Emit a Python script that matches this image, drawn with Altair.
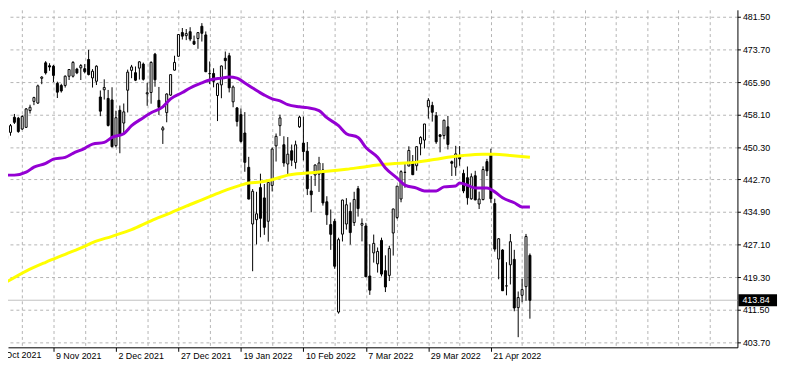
import json
import altair as alt
import pandas as pd

# ---- daily candles (bar index 0 = 22 Oct 2021 ... 134 = 5 May 2022) ----
opens = [452.4, 453.9, 457.5, 457.3, 454.7, 455.1, 459.1, 461.3, 460.9, 466.8,
         470.5, 469.8, 469.7, 465.6, 465.1, 465.1, 467.3, 467.3, 469.0, 469.3,
         469.1, 471.3, 466.9, 466.1, 462.34, 464.07, 462.00, 461.64, 450.73, 459.17,
         456.13, 463.96, 468.70, 468.15, 469.23, 470.19, 463.09, 463.42, 472.57, 461.55,
         454.48, 458.61, 462.79, 468.75, 472.06, 477.72, 476.98, 477.93, 475.64, 476.30,
         479.22, 477.16, 467.89, 467.95, 462.70, 465.23, 471.59, 472.19, 461.19, 459.74,
         458.13, 453.75, 445.56, 432.03, 433.06, 440.72, 438.26, 432.68, 441.24, 450.68,
         455.50, 450.95, 446.35, 449.51, 446.73, 455.22, 451.34, 449.41, 439.92, 443.73,
         443.93, 444.93, 437.33, 431.89, 432.66, 411.02, 429.61, 432.03, 435.04, 432.37,
         440.47, 431.75, 431.55, 419.62, 425.14, 422.52, 428.12, 420.89, 419.77, 429.89,
         433.59, 438.00, 444.34, 445.86, 446.91, 445.94, 451.16, 452.06, 460.02, 460.34,
         457.89, 453.31, 453.13, 455.22, 446.89, 445.59, 447.97, 444.11, 443.08, 438.03,
         443.55, 436.81, 437.86, 446.92, 448.54, 436.91, 423.67, 425.83, 417.24, 422.29,
         423.59, 412.07, 415.01, 417.08, 424.55]
highs = [454.7, 455.9, 458.3, 457.6, 458.0, 459.7, 460.5, 462.4, 465.3, 467.3,
         470.9, 470.4, 470.0, 466.0, 465.5, 467.5, 468.9, 470.9, 469.3, 470.2,
         470.2, 473.6, 469.0, 469.9, 463.90, 466.56, 464.03, 464.67, 459.07, 460.30,
         460.79, 468.88, 470.00, 469.63, 470.90, 470.56, 465.74, 470.86, 472.87, 464.74,
         455.40, 463.21, 467.81, 472.19, 477.31, 478.81, 478.56, 479.00, 477.00, 477.85,
         479.98, 477.98, 470.82, 469.20, 465.74, 469.85, 473.20, 472.88, 465.09, 459.96,
         459.61, 458.74, 448.06, 440.38, 439.72, 444.04, 441.59, 442.00, 450.28, 453.63,
         458.12, 452.97, 452.78, 450.99, 451.92, 457.88, 457.71, 451.61, 443.50, 446.28,
         448.06, 446.56, 438.66, 435.50, 433.26, 428.76, 437.84, 438.20, 437.17, 439.72,
         441.11, 433.37, 432.30, 427.21, 429.51, 426.43, 428.77, 424.55, 426.84, 435.68,
         441.07, 444.86, 446.46, 450.58, 448.49, 450.50, 452.98, 455.91, 462.07, 461.20,
         458.76, 453.46, 456.91, 457.83, 447.17, 450.69, 450.63, 445.00, 445.75, 444.11,
         444.73, 439.75, 445.80, 447.57, 450.01, 438.08, 428.69, 426.04, 422.92, 429.64,
         425.87, 415.92, 418.93, 429.66, 425.00]
lows = [451.2, 453.1, 455.9, 453.8, 454.5, 455.0, 458.4, 460.4, 460.7, 465.4,
        467.7, 468.6, 465.9, 462.1, 463.4, 464.6, 466.4, 467.0, 467.8, 466.4,
        468.0, 467.5, 464.6, 465.2, 457.77, 461.73, 455.30, 450.29, 450.31, 448.92,
        453.56, 458.65, 466.83, 466.14, 466.51, 466.27, 460.25, 460.74, 464.80, 458.06,
        451.14, 456.31, 462.58, 468.64, 472.01, 476.06, 475.92, 475.67, 474.81, 473.85,
        475.58, 468.28, 465.43, 464.65, 456.60, 462.05, 468.94, 463.44, 459.90, 455.31,
        451.46, 444.50, 437.95, 420.76, 427.15, 428.86, 429.45, 427.82, 439.81, 446.94,
        453.05, 445.71, 443.83, 445.85, 445.22, 455.00, 447.20, 438.94, 434.84, 441.12,
        439.69, 436.42, 431.82, 425.86, 421.35, 410.64, 427.86, 430.70, 427.11, 431.57,
        433.80, 427.88, 419.36, 415.12, 422.82, 420.44, 419.53, 415.79, 418.42, 424.50,
        433.19, 437.22, 440.68, 445.86, 443.71, 444.76, 448.43, 450.06, 457.18, 456.47,
        451.16, 449.14, 452.26, 449.82, 443.48, 443.53, 445.94, 439.39, 436.65, 437.84,
        437.68, 435.61, 437.68, 443.48, 437.10, 425.44, 418.84, 416.07, 415.01, 417.60,
        411.21, 405.02, 413.36, 413.71, 409.44]
closes = [453.1, 455.5, 456.3, 454.1, 457.7, 459.5, 459.9, 462.2, 465.0, 467.1,
          468.1, 469.5, 467.5, 463.5, 463.8, 467.3, 468.9, 470.6, 468.1, 469.85,
          468.4, 467.7, 468.5, 469.7, 458.97, 464.60, 455.56, 450.50, 457.40, 453.42,
          458.79, 468.28, 469.52, 466.35, 470.74, 466.57, 463.36, 470.60, 466.45, 459.87,
          454.98, 463.06, 467.69, 470.60, 477.26, 476.87, 477.48, 476.16, 474.96, 477.71,
          477.55, 468.38, 467.94, 466.09, 465.51, 469.75, 471.02, 464.53, 464.72, 456.49,
          451.75, 446.75, 437.98, 439.84, 434.47, 433.38, 431.24, 441.95, 449.91, 452.95,
          457.35, 446.60, 448.70, 447.26, 450.94, 457.54, 449.32, 440.46, 439.02, 446.10,
          446.60, 437.06, 434.23, 429.57, 421.95, 428.30, 437.75, 436.63, 429.98, 437.89,
          435.71, 432.17, 419.43, 416.25, 427.41, 425.48, 420.07, 417.00, 426.17, 435.62,
          441.07, 444.52, 444.39, 449.59, 443.80, 450.49, 452.69, 455.91, 461.55, 458.70,
          451.64, 452.92, 456.80, 451.03, 446.52, 448.77, 447.57, 439.92, 438.29, 443.31,
          437.79, 437.97, 445.04, 444.71, 438.06, 426.04, 428.51, 416.10, 417.27, 427.81,
          412.00, 414.48, 416.38, 429.06, 413.81]

# ---- moving averages (bar index, value) ----
ma_fast_bar = [0, 2, 5, 7, 10, 12, 15, 17, 20, 22, 25, 27, 30, 32, 35, 37, 40, 42, 45, 47,
               50, 52, 55, 57, 59, 61, 63, 66, 68, 70, 72, 75, 77, 80, 82, 85, 87, 90, 92,
               95, 97, 100, 102, 105, 107, 110, 112, 115, 116, 118, 120, 123, 125, 127,
               130, 132, 134]
ma_fast_val = [443.7, 443.7, 444.4, 445.6, 446.5, 447.5, 447.95, 448.9, 450.1, 451.1,
               451.5, 452.7, 453.6, 455.5, 457.4, 458.6, 460.0, 461.9, 463.4, 464.5,
               465.7, 466.4, 466.85, 467.1, 466.85, 465.7, 464.5, 462.8, 461.9, 461.4,
               460.5, 460.0, 459.8, 459.1, 457.4, 455.5, 453.6, 452.7, 450.3, 447.95,
               445.4, 443.0, 441.3, 440.6, 439.9, 439.9, 440.9, 441.1, 441.8, 441.3,
               440.6, 440.6, 439.7, 438.3, 437.1, 436.1, 436.1]
ma_slow_bar = [0, 5, 10, 15, 20, 22, 27, 32, 37, 42, 46, 50, 55, 60, 62, 65, 68, 72, 77,
               82, 87, 91, 95, 100, 105, 110, 113, 117, 122, 125, 129, 134]
ma_slow_val = [418.2, 420.8, 422.9, 424.8, 426.7, 427.6, 429.1, 430.7, 432.8, 434.7,
               436.3, 437.8, 439.7, 441.3, 441.8, 442.05, 442.6, 443.7, 444.2, 444.6,
               445.1, 445.6, 446.1, 446.5, 446.8, 447.5, 447.95, 448.4, 448.7, 448.7,
               448.4, 447.95]

# ---- axes ----
date_tick_bars = [12, 28, 44, 60, 76, 92, 108, 124]
date_tick_labels = ["9 Nov 2021", "2 Dec 2021", "27 Dec 2021", "19 Jan 2022",
                    "10 Feb 2022", "7 Mar 2022", "29 Mar 2022", "21 Apr 2022"]
first_label_bar = -4
first_label = "18 Oct 2021"
grid_bars = [4, 12, 20, 28, 36, 44, 52, 60, 68, 76, 84, 92, 100, 108, 116, 124,
             132, 140, 148, 156, 164, 172, 180]
price_ticks = [481.50, 473.70, 465.90, 458.10, 450.30, 442.70, 434.90, 427.10,
               419.30, 411.50, 403.70]
last_price = 413.84

FONT = "Liberation Sans"
FS = 9
GRID = "#b4b4b4"

candles = pd.DataFrame({"bar": list(range(len(closes))), "open": opens,
                        "high": highs, "low": lows, "close": closes})
fast = pd.DataFrame({"bar": ma_fast_bar, "value": ma_fast_val})
slow = pd.DataFrame({"bar": ma_slow_bar, "value": ma_slow_val})
last = pd.DataFrame({"price": [last_price], "label": [f"{last_price:.2f}"]})
first = pd.DataFrame({"bar": [first_label_bar], "label": [first_label]})

xscale = alt.Scale(domain=[1.625, 185.875], nice=False, zero=False)
yscale = alt.Scale(domain=[402.60, 483.15], nice=False, zero=False)

is_label = "(datum.value - 12) % 16 == 0 && datum.value >= 12 && datum.value <= 124"
label_expr = (f"{is_label} ? {json.dumps(date_tick_labels)}[(datum.value - 12) / 16] : ''")

xaxis = alt.Axis(values=grid_bars, title=None, orient="bottom",
                 grid=True, gridColor=GRID, gridDash=[3, 3], gridWidth=1,
                 domain=True, domainColor="black", domainWidth=1,
                 ticks=True, tickSize=4, tickColor="black",
                 tickOpacity={"condition": {"test": is_label, "value": 1}, "value": 0},
                 labelExpr=label_expr, labelAlign="left", labelBaseline="alphabetic",
                 labelOffset=2, labelPadding=7, labelFont=FONT, labelFontSize=FS,
                 labelColor="black", labelOverlap=False, labelBound=False,
                 labelFlush=False)
yaxis = alt.Axis(values=price_ticks, title=None, orient="right", format=".2f",
                 grid=True, gridColor=GRID, gridDash=[3, 3], gridWidth=1,
                 domain=True, domainColor="black", domainWidth=1,
                 ticks=True, tickSize=3, tickColor="black",
                 labelAlign="left", labelBaseline="middle", labelPadding=2,
                 labelFont=FONT, labelFontSize=FS, labelColor="black",
                 labelOverlap=False, labelBound=False, labelFlush=False)


def X(f):
    return alt.X(f, type="quantitative", scale=xscale, axis=xaxis)


def Y(f):
    return alt.Y(f, type="quantitative", scale=yscale, axis=yaxis)


bid_line = alt.Chart(last).mark_rule(color="#c0c0c0", strokeWidth=1).encode(
    x=alt.value(0), x2=alt.value(737), y=Y("price"))

wicks = alt.Chart(candles).mark_rule(color="black", strokeWidth=1, clip=True).encode(
    x=X("bar"), y=Y("low"), y2=alt.Y2("high"))

bodies = alt.Chart(candles).mark_bar(size=2, stroke="black", strokeWidth=1,
                                     clip=True).encode(
    x=X("bar"), y=Y("open"), y2=alt.Y2("close"),
    fill=alt.condition("datum.close >= datum.open", alt.value("white"), alt.value("black")))

slow_line = alt.Chart(slow).mark_line(color="#FFFF00", strokeWidth=3, clip=True,
                                      interpolate="monotone").encode(
    x=X("bar"), y=Y("value"))
fast_line = alt.Chart(fast).mark_line(color="#9400D3", strokeWidth=3, clip=True,
                                      interpolate="monotone").encode(
    x=X("bar"), y=Y("value"))

price_box = alt.Chart(last).mark_rule(color="black", strokeWidth=12, strokeCap="butt").encode(
    x=alt.value(738), x2=alt.value(777), y=Y("price"))
price_text = alt.Chart(last).mark_text(align="left", baseline="middle", color="white",
                                       font=FONT, fontSize=FS).encode(
    x=alt.value(742), y=Y("price"), text="label:N")

first_text = alt.Chart(first).mark_text(align="left", baseline="alphabetic", dx=2,
                                        color="black", font=FONT, fontSize=FS).encode(
    x=X("bar"), y=alt.value(352), text="label:N")

chart = alt.layer(bid_line, wicks, bodies, slow_line, fast_line, price_box, price_text,
                  first_text).properties(
    width=737, height=341,
    autosize=alt.AutoSizeParams(type="none"),
    padding={"left": 0, "top": 0, "right": 43, "bottom": 14},
    background="white",
).configure_view(stroke=None)

chart.save("out.html", embed_options={"renderer": "svg", "actions": False})
